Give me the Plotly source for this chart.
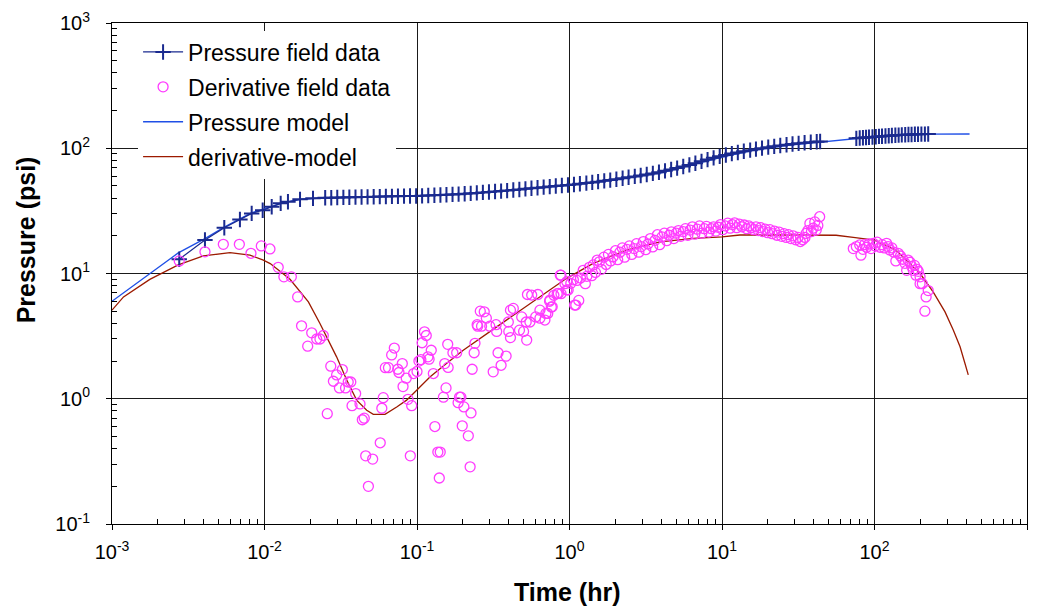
import plotly.graph_objects as go

# ---------------- data ----------------
# Pressure field data (hr, psi); None separates the two recorded segments
p_field_t = [0.00276, 0.00407, 0.00545, 0.0069, 0.00824, 0.00973, 0.01115, 0.01277, 0.01425,
             0.0171, 0.0208, 0.025, 0.0274, 0.030, 0.0329, 0.036, 0.0395, 0.0433, 0.0474,
             0.052, 0.057, 0.0625, 0.0685, 0.075, 0.0822, 0.090, 0.0987, 0.108, 0.1185, 0.13,
             0.1424, 0.156, 0.171, 0.1874, 0.2054, 0.225, 0.2467, 0.2704, 0.2964, 0.325, 0.356,
             0.39, 0.428, 0.469, 0.514, 0.563, 0.617, 0.677, 0.742, 0.813, 0.891, 0.977, 1.07,
             1.17, 1.29, 1.41, 1.54, 1.69, 1.85, 2.03, 2.23, 2.44, 2.68, 2.93, 3.21, 3.52, 3.86,
             4.23, 4.64, 5.08, 5.57, 6.11, 6.69, 7.34, 8.04, 8.81, 9.66, 10.6, 11.6, 12.7, 13.9,
             15.3, 16.7, 18.3, 20.1, 22.0, 24.1, 26.5, 29.0, 31.8, 34.8, 38.2, 41.8, 44.0,
             None,
             76, 80, 84, 88, 92, 97, 102, 107, 112, 118, 124, 130, 137, 144, 151, 159, 167,
             175, 184, 193, 203, 214, 225]
p_field_p = [13.0, 18.5, 23.2, 27.0, 30.2, 32.0, 34.1, 36.3, 37.4,
             39.1, 39.8, 40.2, 40.3, 40.4, 40.5, 40.6, 40.7, 40.8, 40.9,
             41.0, 41.1, 41.2, 41.3, 41.4, 41.5, 41.55, 41.6, 41.7, 41.9, 42.1,
             42.3, 42.5, 42.8, 43.0, 43.3, 43.6, 44.0, 44.4, 44.7, 45.1, 45.5,
             45.9, 46.4, 46.9, 47.4, 47.9, 48.4, 48.9, 49.4, 49.9, 50.4, 50.9, 51.4,
             52.0, 52.7, 53.4, 54.1, 54.9, 55.7, 56.6, 57.6, 58.6, 59.6, 60.6, 61.8, 63.0, 64.4,
             66.0, 67.6, 69.4, 71.4, 73.6, 76.0, 78.6, 81.2, 83.8, 86.2, 88.4, 90.6, 92.6, 94.6,
             96.6, 98.4, 100.2, 102.0, 103.6, 105.2, 106.6, 108.0, 109.4, 110.6, 111.8, 112.8, 113.2,
             None,
             120.0, 120.6, 121.3, 121.9, 122.5, 123.1, 123.7, 124.3, 124.8, 125.4, 125.9, 126.4,
             126.9, 127.4, 127.8, 128.2, 128.6, 128.9, 129.2, 129.4, 129.6, 129.7, 129.8]

# Derivative field data (hr, psi)
d_field_t = [0.00276, 0.00407, 0.00537, 0.00684, 0.00815, 0.00953, 0.01086, 0.0123, 0.0134, 0.0150,
             0.0165, 0.0175, 0.0192, 0.0204, 0.0220, 0.0231, 0.0243, 0.0258, 0.0272, 0.0283,
             0.0297, 0.0310, 0.0324, 0.0340, 0.0354, 0.0368, 0.0375, 0.0396, 0.0423, 0.0438,
             0.0451, 0.0461, 0.0480, 0.0512, 0.0574, 0.0588, 0.0601, 0.0620, 0.0650, 0.0682,
             0.0710, 0.0748, 0.0762, 0.0801, 0.0810, 0.0850, 0.0873, 0.0904, 0.0923, 0.0950,
             0.100, 0.103, 0.106, 0.108, 0.112, 0.115, 0.118, 0.120, 0.124, 0.128,
             0.131, 0.137, 0.140, 0.142, 0.149, 0.152, 0.155, 0.159, 0.160, 0.172,
             0.182, 0.186, 0.190, 0.194, 0.198, 0.203, 0.217, 0.223, 0.226, 0.230,
             0.237, 0.240, 0.248, 0.250, 0.260, 0.265, 0.276, 0.285, 0.300, 0.316,
             0.330, 0.333, 0.340, 0.356, 0.384, 0.397, 0.400, 0.410, 0.410, 0.428,
             0.470, 0.486, 0.500, 0.520, 0.524, 0.530, 0.550, 0.565, 0.600, 0.620,
             0.640, 0.640, 0.690, 0.700, 0.720, 0.740, 0.745, 0.760, 0.770, 0.790,
             0.830, 0.845, 0.870, 0.879, 0.880, 0.933, 0.960, 0.960, 0.980, 1.02,
             1.06, 1.08, 1.10, 1.12, 1.15, 1.18, 1.23, 1.27, 1.30, 1.35,
             1.40, 1.43, 1.48, 1.52, 1.57, 1.62, 1.68, 1.74, 1.80, 1.86,
             1.93, 2.00, 2.07, 2.14, 2.22, 2.30, 2.38, 2.47, 2.56, 2.65,
             2.75, 2.85, 2.95, 3.05, 3.16, 3.27, 3.39, 3.51, 3.64, 3.77,
             3.90, 4.04, 4.19, 4.34, 4.50, 4.66, 4.83, 5.00, 5.18, 5.37,
             5.56, 5.76, 5.97, 6.18, 6.40, 6.63, 6.87, 7.12, 7.37, 7.64,
             7.91, 8.20, 8.49, 8.80, 9.11, 9.44, 9.78, 10.1, 10.5, 10.9,
             11.3, 11.7, 12.1, 12.5, 13.0, 13.5, 14.0, 14.5, 15.0, 15.5,
             16.1, 16.7, 17.3, 17.9, 18.5, 19.2, 19.9, 20.6, 21.3, 22.1,
             22.9, 23.7, 24.6, 25.5, 26.4, 27.3, 28.3, 29.3, 30.4, 31.5,
             32.6, 33.8, 35.0, 35.6, 36.6, 37.7, 38.6, 39.6, 40.6, 41.5,
             42.5, 43.7,
             72.6, 76.0, 80.0, 81.5, 84.0, 86.0, 88.9, 92.0, 95.0, 98.0,
             101, 104, 108.7, 112, 116, 120, 123, 126, 130, 134,
             138, 143, 148, 153, 158.5, 162.5, 166, 171, 175, 179.6,
             183, 187, 190, 193.6, 199, 199, 206, 214, 218, 225]
d_field_p = [12.6, 14.9, 17.1, 17.1, 14.5, 16.6, 15.7, 11.2, 9.4, 9.4,
             6.5, 3.82, 2.63, 3.36, 3.0, 3.0, 3.2, 0.76, 1.82, 1.38,
             1.55, 1.22, 1.71, 1.22, 1.36, 1.36, 0.88, 1.10, 0.91, 0.68,
             0.70, 0.35, 0.20, 0.33, 0.445, 0.84, 1.02, 1.77, 1.77, 2.24,
             2.54, 1.72, 1.62, 1.91, 1.25, 1.46, 0.99, 0.35, 0.88, 1.59,
             1.65, 2.0, 2.05, 2.8, 3.42, 3.2, 2.16, 2.07, 2.44, 1.59,
             0.60, 0.375, 0.233, 0.375, 1.03, 1.91, 1.22, 2.72, 1.78, 2.33,
             2.33, 0.93, 1.03, 1.03, 0.608, 0.86, 0.506, 0.286, 0.77, 1.72,
             2.33, 2.77, 3.9, 3.8, 5.0, 3.8, 4.94, 4.4, 3.8, 1.64,
             3.9, 3.45, 2.33, 1.85, 2.19, 4.1, 3.45, 5.1, 3.08, 5.26,
             3.53, 4.5, 3.45, 4.1, 2.94, 6.8, 4.1, 6.73, 4.5, 6.8,
             5.1, 4.4, 4.25, 4.8, 4.8, 6.0, 6.14, 5.4, 5.42, 6.7,
             6.9, 6.93, 9.7, 9.7, 6.9, 8.3, 7.4, 8.6, 7.4, 8.35,
             8.9, 5.6, 5.6, 8.8, 6.1, 9.2, 10.6, 8.3, 9.5, 11.2,
             9.6, 11.7, 10.2, 12.8, 12.4, 10.8, 13.5, 11.8, 14.2, 12.6,
             13.6, 15.2, 12.9, 14.8, 16.0, 13.5, 15.6, 16.6, 14.2, 15.8,
             17.3, 14.8, 16.4, 18.0, 15.5, 17.2, 19.0, 16.3, 18.4, 20.4,
             17.0, 19.6, 21.0, 18.3, 20.2, 21.5, 19.0, 21.0, 22.0, 19.8,
             21.6, 22.8, 20.2, 22.2, 23.6, 20.6, 22.6, 24.0, 21.0, 22.8,
             23.8, 21.4, 22.8, 23.6, 21.8, 23.4, 24.6, 22.4, 24.0, 25.2,
             23.0, 24.6, 25.4, 23.2, 24.8, 23.6, 24.4, 22.8, 24.0, 23.2,
             22.4, 23.6, 22.0, 23.2, 21.6, 22.6, 21.2, 22.4, 20.8, 21.8,
             20.2, 21.4, 19.8, 20.8, 19.4, 20.4, 19.0, 20.0, 18.6, 19.4,
             18.0, 18.6, 19.4, 20.9, 22.0, 25.1, 21.6, 23.0, 25.8, 22.2,
             24.2, 28.4,
             15.8, 16.4, 16.9, 14.0, 15.6, 17.0, 16.2, 17.2, 15.8, 17.4,
             16.6, 17.8, 16.2, 17.0, 16.0, 17.4, 16.4, 15.4, 16.0, 14.8,
             12.6, 14.5, 13.8, 13.0, 12.05, 10.6, 12.8, 12.3, 11.4, 10.6,
             11.6, 9.7, 10.8, 10.4, 9.4, 8.3, 8.3, 5.0, 6.5, 7.3]

# Pressure model (hr, psi)
p_model_t = [0.00100, 0.00272, 0.00407, 0.00545, 0.0069, 0.0082, 0.0097, 0.0128, 0.0171,
             0.025, 0.05, 0.1, 0.3, 1.0, 2.0, 4.0, 10, 16, 26, 43, 76, 100, 225, 420]
p_model_p = [6.0, 14.6, 19.0, 23.5, 27.3, 30.5, 32.3, 36.3, 39.0,
             40.2, 41.0, 41.7, 44.7, 50.6, 55.8, 63.5, 85, 96, 105, 112, 120, 123.5, 129.7, 130]

# Derivative model (hr, psi)
d_model_t = [0.00100, 0.00119, 0.00177, 0.00272, 0.00397, 0.00594, 0.00803, 0.00983, 0.0109,
             0.0147, 0.0194, 0.0231, 0.0297, 0.0346, 0.0402, 0.0468, 0.0517, 0.0617, 0.0736,
             0.0855, 0.0995, 0.122, 0.156, 0.201, 0.333, 0.55, 0.958, 1.43, 2.37, 3.93, 6.49,
             10.0, 13.1, 26.5, 44, 56, 72.6, 100, 138, 199, 243, 290, 329, 364, 392, 412]
d_model_p = [5.1, 6.5, 8.98, 11.7, 13.8, 14.7, 14.0, 12.8, 12.0,
             9.0, 5.94, 3.99, 2.16, 1.41, 0.975, 0.81, 0.75, 0.75, 0.86,
             0.975, 1.17, 1.5, 1.91, 2.44, 3.75, 5.77, 9.15, 12.05, 15.4, 17.9, 19.1,
             19.6, 20.3, 20.3, 20.3, 20.2, 19.4, 18.5, 15.4, 10.0, 7.1, 4.94, 3.53, 2.6, 1.91, 1.55]

# Axis ticks
x_tickvals = [1e-3, 1e-2, 1e-1, 1e0, 1e1, 1e2, 1e3]
x_ticktext = ["10<sup>-3</sup>", "10<sup>-2</sup>", "10<sup>-1</sup>", "10<sup>0</sup>",
              "10<sup>1</sup>", "10<sup>2</sup>", "10<sup>3</sup>"]
y_tickvals = [1e-1, 1e0, 1e1, 1e2, 1e3]
y_ticktext = ["10<sup>-1</sup>", "10<sup>0</sup>", "10<sup>1</sup>", "10<sup>2</sup>", "10<sup>3</sup>"]

x_minor = [m * d for d in x_tickvals[:-1] for m in range(2, 10)]
y_minor = [m * d for d in y_tickvals[:-1] for m in range(2, 10)]

FONT = "Liberation Sans, Arial, sans-serif"

fig = go.Figure()

fig.add_trace(go.Scatter(
    x=p_model_t, y=p_model_p, mode="lines", name="Pressure model",
    line=dict(color="#1f4fe6", width=1.3), legendrank=3, legendgroup="c"))
fig.add_trace(go.Scatter(
    x=d_model_t, y=d_model_p, mode="lines", name="derivative-model",
    line=dict(color="#9c1a00", width=1.3), legendrank=4, legendgroup="d"))
fig.add_trace(go.Scatter(
    x=p_field_t, y=p_field_p, mode="lines+markers", name="Pressure field data",
    line=dict(color="#1a2a8f", width=1.2), connectgaps=False,
    marker=dict(symbol="cross-thin", size=11, color="#1a2a8f",
                line=dict(color="#1a2a8f", width=2)), legendrank=1, legendgroup="a"))
fig.add_trace(go.Scatter(
    x=d_field_t, y=d_field_p, mode="markers", name="Derivative field data",
    marker=dict(symbol="circle-open", size=10, color="#ff3cff",
                line=dict(color="#ff3cff", width=1.3)), legendrank=2, legendgroup="b"))

axis_common = dict(
    type="log", showline=True, linecolor="black", linewidth=1, mirror=True,
    showgrid=True, gridcolor="#1a1a1a", gridwidth=1, zeroline=False,
    ticks="outside", ticklen=5, tickcolor="black", tickwidth=1,
    tickmode="array", automargin=False,
    tickfont=dict(family=FONT, size=20, color="black"),
)

fig.update_xaxes(
    **axis_common, range=[-3, 3], tickvals=x_tickvals, ticktext=x_ticktext,
    ticklabelstandoff=5,
    minor=dict(tickmode="array", tickvals=x_minor, ticks="inside", ticklen=5,
               tickcolor="black", tickwidth=1, showgrid=False),
)
fig.update_yaxes(
    **axis_common, range=[-1, 3], tickvals=y_tickvals, ticktext=y_ticktext,
    ticklabelstandoff=12,
    minor=dict(tickmode="array", tickvals=y_minor, ticks="inside", ticklen=5,
               tickcolor="black", tickwidth=1, showgrid=False),
)

# the page body adds an 8 px offset, so the figure is 8 px smaller than the window
fig.update_layout(
    width=1031, height=599,
    margin=dict(l=104, r=12, t=15, b=83),
    paper_bgcolor="white", plot_bgcolor="white",
    showlegend=True,
    legend=dict(
        x=0.0285, y=0.985, xanchor="left", yanchor="top",
        bgcolor="white", borderwidth=0,
        font=dict(family=FONT, size=23, color="black"),
        itemwidth=40, traceorder="grouped", tracegroupgap=2,
    ),
    annotations=[
        dict(text="<b>Time (hr)</b>", xref="paper", yref="paper", x=0.4975, y=-0.136,
             xanchor="center", yanchor="middle", showarrow=False,
             font=dict(family=FONT, size=25, color="black")),
        dict(text="<b>Pressure (psi)</b>", xref="paper", yref="paper", x=-0.093, y=0.568,
             xanchor="center", yanchor="middle", showarrow=False, textangle=-90,
             font=dict(family=FONT, size=25, color="black")),
    ],
)

fig.write_html("out.html")
